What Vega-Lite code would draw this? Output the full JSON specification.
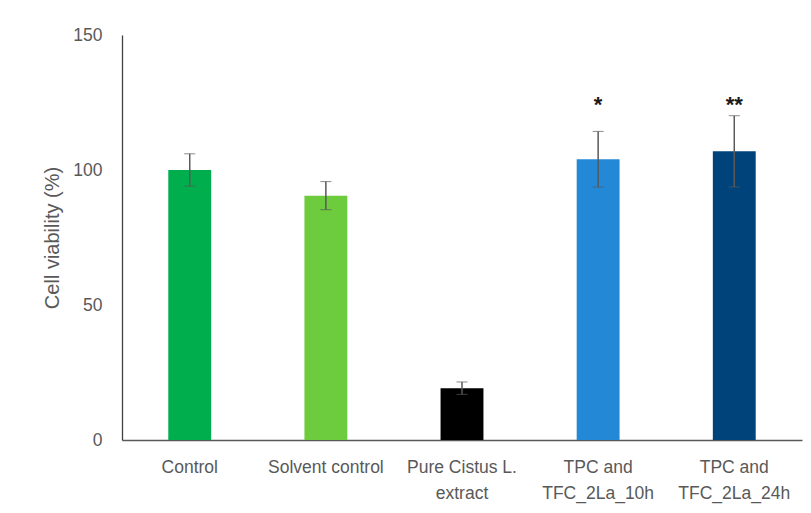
{
  "$schema": "https://vega.github.io/schema/vega-lite/v6.json",
  "autosize": "none",
  "width": 680,
  "height": 405,
  "padding": {"left": 122, "top": 35, "right": 9, "bottom": 73},
  "background": "white",
  "config": {"view": {"stroke": null}, "font": "Liberation Sans"},
  "data": {
    "values": [
      {"group": "Control", "mean": 100, "sd": 6, "sig": ""},
      {"group": "Solvent control", "mean": 90.5, "sd": 5.2, "sig": ""},
      {"group": "Pure Cistus L. extract", "mean": 19.2, "sd": 2.3, "sig": ""},
      {"group": "TPC and TFC_2La_10h", "mean": 104, "sd": 10.3, "sig": "*"},
      {"group": "TPC and TFC_2La_24h", "mean": 106.9, "sd": 13.2, "sig": "**"}
    ]
  },
  "encoding": {
    "x": {
      "field": "group",
      "type": "nominal",
      "sort": null,
      "scale": {"paddingInner": 0.685, "paddingOuter": 0.34},
      "axis": {
        "title": null,
        "labelAngle": 0,
        "ticks": false,
        "domainColor": "#595959",
        "domainWidth": 1.3,
        "labelColor": "#595959",
        "labelFontSize": 17.5,
        "labelPadding": 27,
        "labelLineHeight": 26,
        "labelBaseline": "middle",
        "labelExpr": "datum.label == 'Pure Cistus L. extract' ? ['Pure Cistus L.', 'extract'] : datum.label == 'TPC and TFC_2La_10h' ? ['TPC and', 'TFC_2La_10h'] : datum.label == 'TPC and TFC_2La_24h' ? ['TPC and', 'TFC_2La_24h'] : datum.label"
      }
    }
  },
  "layer": [
    {
      "mark": {"type": "bar"},
      "encoding": {
        "y": {
          "field": "mean",
          "type": "quantitative",
          "scale": {"domain": [0, 150], "nice": false},
          "axis": {
            "title": "Cell viability (%)",
            "titleFontSize": 20,
            "titleFontWeight": "normal",
            "titleColor": "#595959",
            "titlePadding": 10,
            "values": [0, 50, 100, 150],
            "grid": false,
            "ticks": false,
            "domainColor": "#404040",
            "domainWidth": 1.3,
            "labelColor": "#595959",
            "labelFontSize": 17.5,
            "labelPadding": 20
          }
        },
        "color": {
          "field": "group",
          "type": "nominal",
          "sort": null,
          "scale": {
            "domain": ["Control", "Solvent control", "Pure Cistus L. extract", "TPC and TFC_2La_10h", "TPC and TFC_2La_24h"],
            "range": ["#00AE4D", "#6DCC3D", "#000000", "#2389D6", "#00437A"]
          },
          "legend": null
        }
      }
    },
    {
      "mark": {"type": "errorbar", "ticks": {"size": 11, "color": "#595959", "strokeWidth": 1.5}, "rule": {"color": "#595959", "strokeWidth": 1.5}},
      "encoding": {
        "y": {"field": "mean", "type": "quantitative", "scale": {"domain": [0, 150], "nice": false}, "title": "Cell viability (%)"},
        "yError": {"field": "sd"}
      }
    },
    {
      "mark": {"type": "text", "fontSize": 22, "fontWeight": "bold", "color": "#1a1a1a", "baseline": "middle", "dy": 5},
      "encoding": {
        "y": {"datum": 126, "scale": {"domain": [0, 150], "nice": false}, "title": "Cell viability (%)"},
        "text": {"field": "sig"}
      }
    }
  ]
}
